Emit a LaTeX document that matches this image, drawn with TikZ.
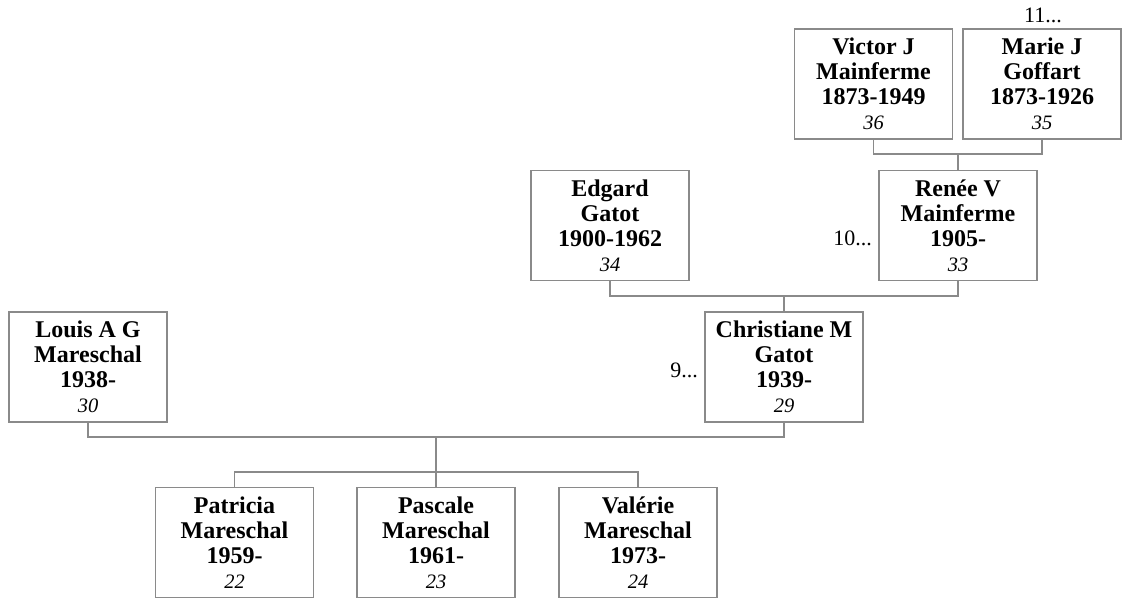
\documentclass[tikz,border=0pt]{standalone}
\usepackage{fontspec}
\setmainfont{Liberation Serif}
\definecolor{linegray}{RGB}{138,138,138}
\tikzset{
  person/.style={draw=linegray, line width=1.1pt, rectangle, minimum width=158pt, minimum height=110pt,
    inner sep=0pt, align=center, font=\fontsize{24}{25}\selectfont\bfseries},
  conn/.style={draw=linegray, line width=1.1pt},
  more/.style={font=\fontsize{22}{25}\selectfont, inner sep=0pt}
}
\newcommand{\refnum}[1]{{\fontsize{20.5}{25}\selectfont\mdseries\itshape #1}}
\begin{document}
\begin{tikzpicture}[x=1pt,y=-1pt]
\useasboundingbox (0,0) rectangle (1126,599);
% generation 4
\node[person] (victor) at (873.5,84) {Victor J\\Mainferme\\1873-1949\\\refnum{36}};
\node[person] (marie) at (1042,84) {Marie J\\Goffart\\1873-1926\\\refnum{35}};
% generation 3
\node[person] (edgard) at (610,225.5) {Edgard\\Gatot\\1900-1962\\\refnum{34}};
\node[person] (renee) at (958,225.5) {Renée V\\Mainferme\\1905-\\\refnum{33}};
% generation 2
\node[person] (louis) at (88,367) {Louis A G\\Mareschal\\1938-\\\refnum{30}};
\node[person] (christiane) at (784,367) {Christiane M\\Gatot\\1939-\\\refnum{29}};
% generation 1
\node[person] (patricia) at (234.5,542.5) {Patricia\\Mareschal\\1959-\\\refnum{22}};
\node[person] (pascale) at (436,542.5) {Pascale\\Mareschal\\1961-\\\refnum{23}};
\node[person] (valerie) at (638,542.5) {Valérie\\Mareschal\\1973-\\\refnum{24}};
% continuation labels
\node[more, anchor=base] (m11) at (1043,23) {11...};
\node[more, anchor=base east] (m10) at (872,245) {10...};
\node[more, anchor=base east] (m9) at (698,377) {9...};
% junctions
\coordinate (b1) at (958,154);
\coordinate (b2) at (784,296);
\coordinate (b3) at (436,437);
\coordinate (b4) at (436,472);
% connectors
\draw[conn] (victor.south) |- (b1) -| (marie.south);
\draw[conn] (b1) -- (renee.north);
\draw[conn] (edgard.south) |- (b2) -| (renee.south);
\draw[conn] (b2) -- (christiane.north);
\draw[conn] (louis.south) |- (b3) -| (christiane.south);
\draw[conn] (b3) -- (pascale.north);
\draw[conn] (patricia.north) |- (b4) -| (valerie.north);
\end{tikzpicture}
\end{document}
